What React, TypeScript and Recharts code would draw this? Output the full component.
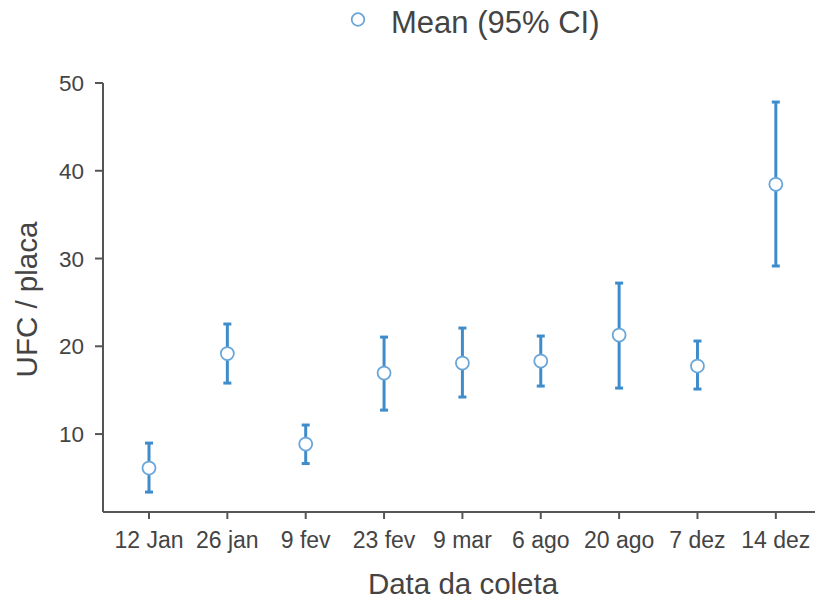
import React from 'react';
import { ComposedChart, Scatter, ErrorBar, XAxis, YAxis, Legend } from 'recharts';

const categories = ['12 Jan', '26 jan', '9 fev', '23 fev', '9 mar', '6 ago', '20 ago', '7 dez', '14 dez'];
const means = [6.13, 19.17, 8.86, 16.95, 18.09, 18.32, 21.28, 17.75, 38.46];
const lowers = [3.39, 15.81, 6.64, 12.73, 14.22, 15.47, 15.24, 15.13, 29.15];
const uppers = [8.97, 22.54, 11.03, 21.05, 22.08, 21.17, 27.2, 20.6, 47.83];
const yTicks = [10, 20, 30, 40, 50];

const BLUE = '#3f8ccb';
const MARKER = '#6aa6da';
const AXIS = '#555555';
const TEXT = '#444444';
const FONT = '"Liberation Sans", Arial, sans-serif';

const data = categories.map((c, i) => ({
  idx: i,
  label: c,
  mean: means[i],
  err: [means[i] - lowers[i], uppers[i] - means[i]],
}));

const xTicks = categories.map((_, i) => i);

const MarkerShape = (props: any) => (
  <circle cx={props.cx} cy={props.cy} r={6.5} fill="#ffffff" stroke={MARKER} strokeWidth={1.8} />
);

const LegendContent = () => (
  <svg width={280} height={45} style={{ display: 'block' }}>
    <circle cx={9} cy={19.5} r={6.3} fill="#ffffff" stroke={MARKER} strokeWidth={1.8} />
    <text x={42} y={33} fontSize={31} fill={TEXT} fontFamily={FONT}>
      Mean (95% CI)
    </text>
  </svg>
);

const XTitle = (props: any) => {
  const vb = props.viewBox || {};
  return (
    <text x={vb.x + vb.width / 2 + 4} y={vb.y + 82} textAnchor="middle" fontSize={29.5} fill={TEXT} fontFamily={FONT}>
      Data da coleta
    </text>
  );
};

const YTitle = (props: any) => {
  const vb = props.viewBox || {};
  const x = 37;
  const y = vb.y + vb.height / 2 + 2;
  return (
    <text x={x} y={y} transform={`rotate(-90, ${x}, ${y})`} textAnchor="middle" fontSize={29.5} fill={TEXT} fontFamily={FONT}>
      UFC / placa
    </text>
  );
};

export default function App() {
  return (
    <div style={{ position: 'absolute', left: 0, top: 0, background: '#fff' }}>
      <ComposedChart width={817} height={600} data={data} margin={{ top: 83, right: 2, left: 0, bottom: 0 }}>
        <XAxis
          dataKey="idx"
          type="number"
          domain={[-0.587, 8.5]}
          allowDataOverflow
          ticks={xTicks}
          interval={0}
          tickFormatter={(v: number) => categories[v] ?? ''}
          height={88}
          stroke={AXIS}
          strokeWidth={2}
          tickSize={7}
          tickMargin={13}
          tick={{ fontSize: 23, fill: TEXT, fontFamily: FONT }}
          label={<XTitle />}
        />
        <YAxis
          type="number"
          domain={[1.12, 50]}
          allowDataOverflow
          ticks={yTicks}
          width={103}
          stroke={AXIS}
          strokeWidth={2}
          tickSize={8}
          tickMargin={11}
          tick={{ fontSize: 22.5, fill: TEXT, fontFamily: FONT }}
          label={<YTitle />}
        />
        <Legend
          layout="horizontal"
          verticalAlign="middle"
          align="center"
          wrapperStyle={{ top: 0, left: 349, width: 280 }}
          content={<LegendContent />}
        />
        <Scatter dataKey="mean" name="Mean (95% CI)" isAnimationActive={false} shape={<MarkerShape />}>
          <ErrorBar dataKey="err" direction="y" width={4} stroke={BLUE} strokeWidth={3} isAnimationActive={false} />
        </Scatter>
      </ComposedChart>
    </div>
  );
}
